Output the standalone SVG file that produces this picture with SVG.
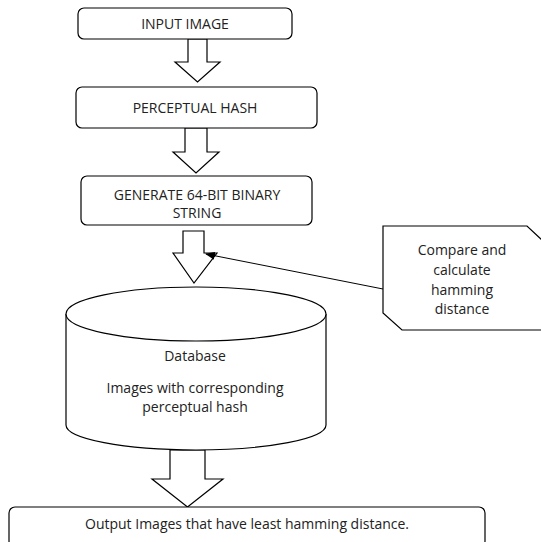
<svg xmlns="http://www.w3.org/2000/svg" width="541" height="542" viewBox="0 0 541 542">
<defs>
<style>
.s{fill:#fff;stroke:#000;stroke-width:1.2}
.t{font-family:"Open Sans","Liberation Sans",sans-serif;font-size:14px;fill:#222;text-anchor:middle}
.c{fill:none;stroke:#000;stroke-width:1}
</style>
<marker id="ah" markerWidth="10" markerHeight="8" refX="9" refY="4" orient="auto" markerUnits="userSpaceOnUse">
<path d="M0,0 L10,4 L0,8 z" fill="#000"/>
</marker>
</defs>
<rect width="541" height="542" fill="#fff"/>
<g id="connectors">
<path class="s" d="M188,39 V62 H175 L197.5,82 L220,62 H207 V39 Z"/>
<path class="s" d="M185,128 V152 H173 L196,173 L219,152 H207 V128 Z"/>
<path class="s" d="M183,231 V253 H173 L194,283 L217,253 H204 V231 Z"/>
<path class="s" d="M170,450 V479 H152 L187.5,507 L223,479 H205 V450 Z"/>
<line class="c" x1="383" y1="289" x2="206" y2="254" marker-end="url(#ah)"/>
</g>
<g id="input">
<rect class="s" x="78" y="8" width="214" height="31" rx="6"/>
<text class="t" x="185" y="29">INPUT IMAGE</text>
</g>
<g id="phash">
<rect class="s" x="76" y="87" width="241" height="41" rx="6"/>
<text class="t" x="195" y="113">PERCEPTUAL HASH</text>
</g>
<g id="generate">
<rect class="s" x="81" y="176" width="231" height="49" rx="6"/>
<text class="t" x="197" y="200">GENERATE 64-BIT BINARY</text>
<text class="t" x="197" y="218">STRING</text>
</g>
<g id="database">
<path class="s" d="M66,314 V425 A130,25 0 0 0 326,425 V314"/>
<ellipse class="s" cx="196" cy="314" rx="130" ry="27"/>
<text class="t" x="195" y="361">Database</text>
<text class="t" x="195" y="393">Images with corresponding</text>
<text class="t" x="195" y="412">perceptual hash</text>
</g>
<g id="callout">
<path class="s" d="M383,226 H527 L542,240 V330 H402 L383,313 Z"/>
<text class="t" x="462" y="255">Compare and</text>
<text class="t" x="462" y="275">calculate</text>
<text class="t" x="462" y="295">hamming</text>
<text class="t" x="462" y="314">distance</text>
</g>
<g id="output">
<rect class="s" x="9" y="507" width="476" height="40" rx="6"/>
<text class="t" x="247" y="529">Output Images that have least hamming distance.</text>
</g>
</svg>
